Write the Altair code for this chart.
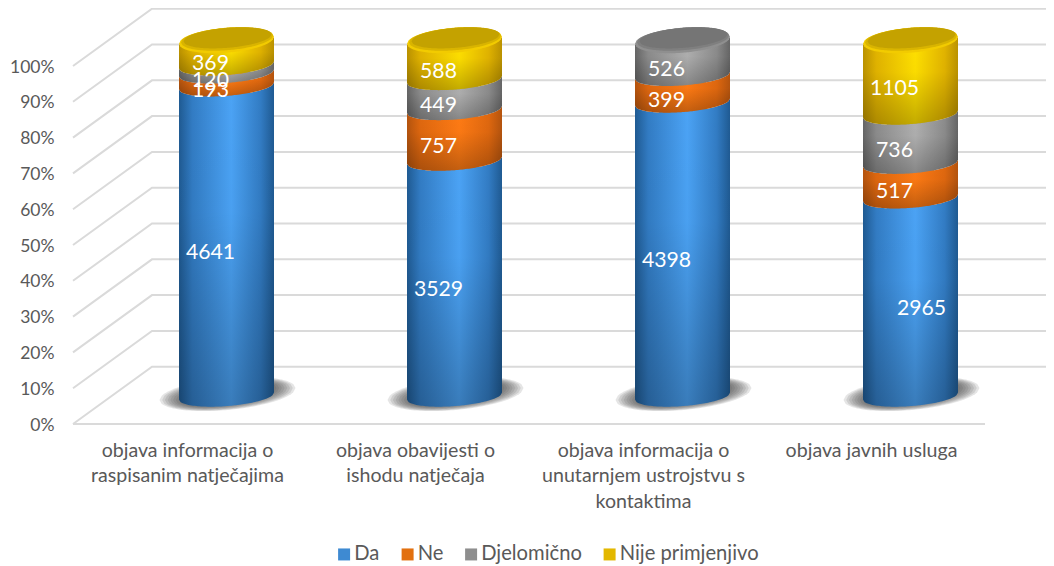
import json
import numpy as np
import pandas as pd
import altair as alt

categories = [
    ["objava informacija o", "raspisanim natječajima"],
    ["objava obavijesti o", "ishodu natječaja"],
    ["objava informacija o", "unutarnjem ustrojstvu s", "kontaktima"],
    ["objava javnih usluga"],
]
series_names = ["Da", "Ne", "Djelomično", "Nije primjenjivo"]
da = [4641, 3529, 4398, 2965]
ne = [193, 757, 399, 517]
djelomicno = [120, 449, 526, 736]
nije = [369, 588, 0, 1105]
series_values = [da, ne, djelomicno, nije]

FONT = "Lato"
TXT = "#595959"
LEGEND_COLORS = ["#3E8AD2", "#E2700F", "#8E8E8E", "#E3B800"]
EDGE = ["#1F5A92", "#B5540E", "#666666", "#BC9300"]
SIDE = ["#327CC4", "#E0680F", "#8C8C8C", "#E2B400"]
MID = ["#4BA3F5", "#FF7B14", "#B0B0B0", "#FFE000"]
RIM = {"Djelomično": "#8F8F8F", "Nije primjenjivo": "#F2CB00"}
MIDCAP = {"Djelomično": "#7F7F7F", "Nije primjenjivo": "#D9B400"}
INNER = {"Djelomično": "#757575", "Nije primjenjivo": "#C4A200"}

PX, PY = 228.0, 3.58
VIEW_W = 973
BACK_X, BACK_Y = 79 / PX, 16.0
CX0 = (226.5 - 73) / PX
A = 47.5 / PX
TILT, B_SEG, B_CAP = 3.5 / PY, 10 / PY, 12.5 / PY
U = np.linspace(-1, 1, 61)
XMAX = VIEW_W / PX
VIEW_H = 414
YMAX = VIEW_H / PY
LABEL_DX = -16 / PX


def centre(p):
    return 7.8 + 0.994 * p


def edge(p, u, b):
    return centre(p) + TILT * u - b * np.sqrt(1 - u * u)


totals = [sum(s[i] for s in series_values) for i in range(4)]
bands, bars, labels = [], [], []
for i in range(4):
    cum = 0
    for s, name in zip(series_values, series_names):
        v = s[i]
        lo, hi = cum / totals[i] * 100, (cum + v) / totals[i] * 100
        cum += v
        if v == 0:
            continue
        cx = i + CX0
        for u in U:
            bands.append(dict(bar=i, series=name, x=cx + A * u, y=edge(lo, u, B_SEG), y2=edge(hi, u, B_SEG)))
        bars.append(dict(series=name, x=cx - A / 2, x2=cx + A / 2, y=centre(lo), y2=centre(hi)))
        dx = 11 / PX if v == 2965 else LABEL_DX
        labels.append(dict(x=cx + dx, y=centre((lo + hi) / 2) - 3.3, text=str(v)))
bands = pd.DataFrame(bands)
bars = pd.DataFrame(bars)
labels = pd.DataFrame(labels)

grid = []
for p in range(0, 101, 10):
    grid += [
        dict(p=p, o=0, x=0, y=p),
        dict(p=p, o=1, x=BACK_X, y=p + BACK_Y),
        dict(p=p, o=2, x=XMAX, y=p + BACK_Y),
    ]
grid.append(dict(p=-1, o=0, x=0, y=0))
grid.append(dict(p=-1, o=1, x=4, y=0))
grid = pd.DataFrame(grid)

shadow = []
for i in range(4):
    for k, f in enumerate([1.0, 0.96, 0.92, 0.88, 0.84, 0.8, 0.76, 0.72]):
        cx = i + CX0 + 1 / PX
        for u in U:
            x = cx + f * 68 / PX * u
            mid = (424 - 394) / PY + 6 / PY * u
            h = f * 16 / PY * np.sqrt(1 - u * u)
            shadow.append(dict(k=f"{i}-{k}", x=x, y=mid - h, y2=mid + h))
shadow = pd.DataFrame(shadow)

top_series = ["Nije primjenjivo", "Nije primjenjivo", "Djelomično", "Nije primjenjivo"]
caps = []
for i, ts in enumerate(top_series):
    cx = i + CX0
    for u in U:
        root = np.sqrt(1 - u * u)
        caps.append(dict(bar=i, series=ts, part="rim", x=cx + A * u,
                         y=centre(100) + TILT * u - B_CAP * root,
                         y2=centre(100) + TILT * u + B_CAP * root))
        c = centre(100) + 1.2 / PY + TILT * u
        caps.append(dict(bar=i, series=ts, part="mid", x=cx + 0.5 / PX + 46 / PX * u,
                         y=c - 11.2 / PY * root, y2=c + 11.2 / PY * root))
        c = centre(100) + 2.4 / PY + TILT * u
        caps.append(dict(bar=i, series=ts, part="inner", x=cx + 1 / PX + 44 / PX * u,
                         y=c - 10 / PY * root, y2=c + 10 / PY * root))
caps = pd.DataFrame(caps)

xs = alt.Scale(domain=[0, XMAX], nice=False, zero=False)
ys = alt.Scale(domain=[0, YMAX], nice=False, zero=False)

cases = "".join(f"datum.value=={i + 0.5}?{json.dumps(c, ensure_ascii=False)}:" for i, c in enumerate(categories)) + "''"

x_axis = alt.Axis(
    values=[0.5, 1.5, 2.5, 3.5], labelExpr=cases, domain=False, ticks=False, grid=False,
    labelFont=FONT, labelFontSize=19.6, labelColor=TXT, labelPadding=17, labelLineHeight=25.5, labelLimit=400,
    labelOverlap=False, labelBound=False, labelFlush=False, labelAngle=0, labelAlign="center", title=None,
)
y_axis = alt.Axis(
    values=list(range(0, 101, 10)), labelExpr="datum.value+'%'", domain=False, ticks=False, grid=False,
    labelFont=FONT, labelFontSize=17.5, labelColor=TXT, labelPadding=19, labelOverlap=False, labelOffset=1,
    labelBound=False, labelFlush=False, title=None,
)
X = alt.X("x:Q", scale=xs, axis=x_axis, title=None)
Y = alt.Y("y:Q", scale=ys, axis=y_axis, title=None)

layers = []
layers.append(
    alt.Chart(grid).mark_line(color="#DADADA", strokeWidth=2, clip=False).encode(
        x=X, y=Y, detail="p:N", order="o:Q",
    )
)
layers.append(alt.Chart(shadow).mark_area(fill="#4A4A4A", opacity=0.14, clip=False).encode(
    x=X, y=Y, y2="y2:Q", detail="k:N"))
layers.append(
    alt.Chart(bars).mark_bar().encode(
        x=X, x2="x2:Q", y=Y, y2="y2:Q",
        color=alt.Color(
            "series:N",
            scale=alt.Scale(domain=series_names, range=LEGEND_COLORS),
            legend=alt.Legend(
                orient="none", legendX=261, legendY=534, direction="horizontal", columns=4,
                title=None, symbolType="square", symbolSize=144, symbolStrokeWidth=0, labelFont=FONT,
                labelFontSize=20.2, labelColor=TXT, labelOffset=0, columnPadding=17.5, gridAlign="each",
                labelLimit=300,
            ),
        ),
    )
)
for n, name in enumerate(series_names):
    horiz = {
        "gradient": "linear", "x1": 0, "x2": 1, "y1": 0, "y2": 0,
        "stops": [
            {"offset": 0, "color": EDGE[n]},
            {"offset": 0.14, "color": SIDE[n]},
            {"offset": 0.55, "color": MID[n]},
            {"offset": 0.86, "color": SIDE[n]},
            {"offset": 1, "color": EDGE[n]},
        ],
    }
    vert = {
        "gradient": "linear", "x1": 0, "x2": 0, "y1": 0, "y2": 1,
        "stops": [
            {"offset": 0, "color": "rgba(0,0,0,0)"},
            {"offset": 0.4, "color": "rgba(0,0,0,0.02)"},
            {"offset": 1, "color": "rgba(0,0,0,0.24)"},
        ],
    }
    d = bands[bands.series == name]
    for fill in (horiz, vert):
        layers.append(alt.Chart(d).mark_area(fill=fill, opacity=1, clip=False).encode(
            x=X, y=Y, y2="y2:Q", detail="bar:N"))
for name in sorted(set(top_series)):
    for part, colors in (("rim", RIM), ("mid", MIDCAP), ("inner", INNER)):
        d = caps[(caps.series == name) & (caps.part == part)]
        layers.append(alt.Chart(d).mark_area(fill=colors[name], opacity=1, clip=False).encode(
            x=X, y=Y, y2="y2:Q", detail="bar:N"))
layers.append(
    alt.Chart(labels).mark_text(color="white", font=FONT, fontSize=21.2, align="center", baseline="middle", clip=False).encode(
        x=X, y=Y, text="text:N"
    )
)

chart = (
    alt.layer(*layers)
    .properties(
        width=VIEW_W,
        height=VIEW_H,
        autosize=alt.AutoSizeParams(type="none"),
        padding={"left": 65, "top": 2, "right": 0, "bottom": 142},
        background="white",
    )
    .configure_view(stroke=None)
)
chart.save("out.html", embed_options={"renderer": "svg", "actions": False})
